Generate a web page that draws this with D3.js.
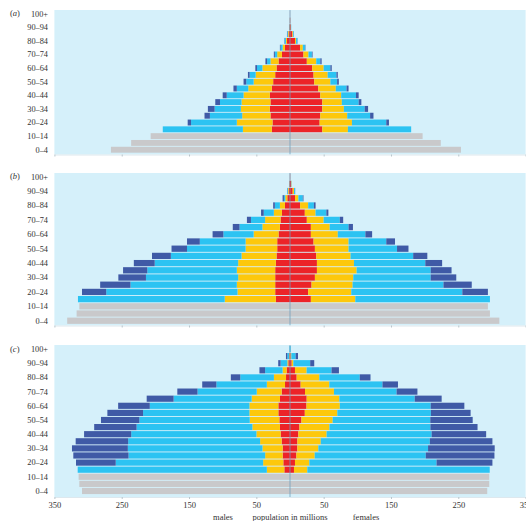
<!DOCTYPE html>
<html lang="en">
<head>
<meta charset="utf-8">
<title>Population pyramids by education</title>
<script src="https://cdnjs.cloudflare.com/ajax/libs/d3/7.8.5/d3.min.js"></script>
<style>
  body { margin: 0; background: #fff; }
  text { font-family: "Liberation Serif", "DejaVu Serif", serif; fill: #333; }
</style>
</head>
<body>
<script>
// age groups, bottom to top
var ages = ["0–4","5–9","10–14","15–19","20–24","25–29","30–34","35–39","40–44","45–49",
            "50–54","55–59","60–64","65–69","70–74","75–79","80–84","85–89","90–94","95–99","100+"];
var xTicks = [-350, -250, -150, -50, 50, 150, 250, 350];

// under-15 (grey) for 0–4, 5–9, 10–14
// education shares from 15–19 upwards: none (red), primary (yellow), secondary (light blue), tertiary (dark blue)

// (a)
var aMaleChild   = [266, 236, 207];
var aFemaleChild = [254, 224, 197];
var aMaleNone      = [27, 26, 29, 30, 29, 30, 27, 25, 22, 20, 17, 12, 7.5, 4.5, 2, 0.8, 0.3, 0.1];
var aMalePrimary   = [43, 53, 42, 43, 43, 39, 35, 29, 29, 21, 12, 7, 3.5, 1.5, 1, 0.3, 0.1, 0];
var aMaleSecondary = [119, 68, 48, 39, 32, 25, 17, 11, 9, 8, 5, 3.5, 3, 2, 1, 0.3, 0.1, 0];
var aMaleTertiary  = [0, 5, 8, 10, 7, 6, 5, 4, 2.5, 2.5, 2.5, 1.5, 1, 0.5, 0.5, 0.1, 0, 0];
var aFemaleNone      = [48, 44, 45, 48, 48, 45, 42, 36, 35, 33, 25, 20, 15, 7.5, 3.5, 1.2, 0.4, 0.1];
var aFemalePrimary   = [38, 48, 40, 32, 29, 31, 26, 24, 21, 17, 14, 7.5, 4, 1.5, 1, 0.3, 0.1, 0];
var aFemaleSecondary = [94, 51, 34, 31, 25, 22, 16, 10, 13, 10, 6, 5, 3.5, 2, 1, 0.3, 0.1, 0];
var aFemaleTertiary  = [0, 4, 5, 5, 4, 4, 3, 2.5, 2, 2, 2, 1, 0.5, 0.3, 0.2, 0, 0, 0];

// (b)
var bMaleChild   = [331, 317, 313];
var bFemaleChild = [311, 297, 294];
var bMaleNone      = [21, 22, 22, 22, 22, 21, 20, 19, 19, 17, 15, 14, 12, 7.5, 4, 2, 0.8, 0.2];
var bMalePrimary   = [76, 56, 57, 55, 57, 56, 52, 47, 47, 37, 26, 23, 12, 7.5, 3, 1, 0.3, 0.05];
var bMaleSecondary = [218, 195, 158, 137, 133, 124, 105, 87, 68, 45, 34, 21, 15, 7.5, 2, 1, 0.2, 0.05];
var bMaleTertiary  = [0, 36, 45, 41, 36, 31, 28, 23, 19, 16, 10, 6, 4, 2.5, 2, 0.3, 0.1, 0];
var bFemaleNone      = [31, 27, 32, 37, 40, 40, 39, 37, 35, 31, 31, 25, 22, 15, 7.5, 4, 1.5, 0.3];
var bFemalePrimary   = [66, 64, 61, 57, 59, 55, 51, 50, 52, 40, 28, 25, 16, 12, 5, 2, 0.5, 0.05];
var bFemaleSecondary = [200, 165, 135, 115, 110, 106, 93, 72, 56, 41, 28, 24, 16, 8.5, 6.5, 1.5, 0.3, 0.05];
var bFemaleTertiary  = [0, 38, 42, 38, 31, 25, 21, 17, 13, 10, 6.5, 5, 3, 2.5, 1, 0.2, 0.1, 0];

// (c)
var cMaleChild   = [309, 313, 314];
var cFemaleChild = [293, 296, 296];
var cMaleNone      = [8.4, 9.9, 10.9, 10.9, 12.4, 13.9, 14.9, 15.8, 17.3, 17.3, 14.9, 12.4, 7.4, 5.9, 5, 2.5, 1, 0];
var cMalePrimary   = [26, 30, 26, 30, 32, 36, 41, 44, 43, 43, 42, 37, 27, 18, 6, 1.5, 0.5, 0];
var cMaleSecondary = [281, 219, 203, 200, 196, 186, 172, 164, 158, 148, 116, 88, 75, 50, 26, 10, 2.5, 0.8];
var cMaleTertiary  = [0, 59, 82, 83, 78, 70, 63, 57, 53, 47, 40, 30, 21, 14, 8.4, 3.5, 2, 0];
var cFemaleNone      = [5.9, 7.4, 9.5, 10.9, 11, 12.4, 14, 17, 22, 24.5, 24.8, 22.3, 15.8, 9.9, 7.4, 2.5, 1, 0];
var cFemalePrimary   = [19.8, 21.3, 27.2, 31.2, 34.7, 42, 44.6, 46.4, 48.3, 49.5, 48.5, 43, 42.6, 33.7, 17.3, 2.5, 1, 0];
var cFemaleSecondary = [271, 189, 165, 163, 162, 156, 150, 145, 139, 135, 112, 93, 79, 60, 37, 25, 6.4, 1];
var cFemaleTertiary  = [0, 83, 102, 99, 93, 81, 70, 63, 59, 50, 40, 31, 23, 16, 11, 6, 3.5, 0];

var keys = ["child", "none", "primary", "secondary", "tertiary"];
var colors = {child: "#c9c9cb", none: "#ec2328", primary: "#fdc80c", secondary: "#2cc3f2", tertiary: "#3f5aa6"};

// build one table per panel and sex (21 rows each)
function table(child, none, primary, secondary, tertiary) {
  return ages.map(function(age, i) {
    var j = i - 3;
    return {
      age: age,
      child: i < 3 ? child[i] : 0,
      none: j >= 0 ? none[j] : 0,
      primary: j >= 0 ? primary[j] : 0,
      secondary: j >= 0 ? secondary[j] : 0,
      tertiary: j >= 0 ? tertiary[j] : 0
    };
  });
}

var panels = [
  {name: "a", y0: 10.3, y1: 153.1, bg0: 10, bg1: 154.5,
   male: table(aMaleChild, aMaleNone, aMalePrimary, aMaleSecondary, aMaleTertiary),
   female: table(aFemaleChild, aFemaleNone, aFemalePrimary, aFemaleSecondary, aFemaleTertiary)},
  {name: "b", y0: 173.1, y1: 324.3, bg0: 173, bg1: 325.5,
   male: table(bMaleChild, bMaleNone, bMalePrimary, bMaleSecondary, bMaleTertiary),
   female: table(bFemaleChild, bFemaleNone, bFemalePrimary, bFemaleSecondary, bFemaleTertiary)},
  {name: "c", y0: 345.5, y1: 494.5, bg0: 345, bg1: 497,
   male: table(cMaleChild, cMaleNone, cMalePrimary, cMaleSecondary, cMaleTertiary),
   female: table(cFemaleChild, cFemaleNone, cFemalePrimary, cFemaleSecondary, cFemaleTertiary)}
];

var w = 526, h = 521;
var svg = d3.select("body").append("svg").attr("width", w).attr("height", h);

var x = d3.scaleLinear().domain([-350, 350]).range([54.4, 525.6]);
var stack = d3.stack().keys(keys);

panels.forEach(function(p, pi) {
  var y = d3.scaleBand().domain(ages).range([p.y1, p.y0]).paddingInner(0.13).paddingOuter(0.06);
  var g = svg.append("g");

  // background
  g.append("rect")
    .attr("x", x(-350)).attr("y", p.bg0)
    .attr("width", x(350) - x(-350)).attr("height", p.bg1 - p.bg0)
    .attr("fill", "#d5f0fa");

  // males to the left, females to the right
  [["male", -1], ["female", 1]].forEach(function(side) {
    var series = stack(p[side[0]]);
    var sgn = side[1];
    g.selectAll(null)
      .data(series)
      .enter().append("g")
      .attr("fill", function(s) { return colors[s.key]; })
      .selectAll("rect")
      .data(function(s) { return s; })
      .enter().append("rect")
      .attr("y", function(d) { return y(d.data.age); })
      .attr("height", y.bandwidth())
      .attr("x", function(d) { return Math.min(x(sgn * d[0]), x(sgn * d[1])); })
      .attr("width", function(d) { return Math.abs(x(sgn * d[1]) - x(sgn * d[0])); });
  });

  // centre line
  g.append("line")
    .attr("x1", x(0)).attr("x2", x(0))
    .attr("y1", p.bg0).attr("y2", p.bg1)
    .attr("stroke", "#6f9fbd").attr("stroke-width", 0.9).attr("opacity", 0.85);

  // bottom axis
  var axis = d3.axisBottom(x).tickValues(xTicks).tickSize(2).tickSizeOuter(0)
    .tickFormat(function(d) { return Math.abs(d); });
  var ax = g.append("g").attr("transform", "translate(0," + p.bg1 + ")").call(axis);
  ax.select(".domain").attr("stroke", "#dde8ee");
  ax.selectAll(".tick line").attr("stroke", "#b9c6cc");
  ax.selectAll(".tick text")
    .attr("font-family", "Liberation Serif, serif").attr("font-size", 8.5)
    .attr("fill", "#444").attr("y", 5)
    .style("display", pi === 2 ? null : "none");

  // age labels, every other group
  g.selectAll(".age")
    .data(ages.filter(function(a, i) { return i % 2 === 0; }))
    .enter().append("text")
    .attr("x", 48).attr("y", function(a) { return y(a) + y.bandwidth() / 2; })
    .attr("dy", "0.35em").attr("text-anchor", "end")
    .attr("font-size", 8.3).attr("fill", "#444")
    .text(function(a) { return a; });

  // panel letter
  var lt = g.append("text").attr("x", 10).attr("y", p.y0 + 6).attr("font-size", 8.5).attr("fill", "#444");
  lt.append("tspan").text("(");
  lt.append("tspan").attr("font-style", "italic").text(p.name);
  lt.append("tspan").text(")");
});

// axis caption
var cap = svg.append("g").attr("font-size", 8.5);
cap.append("text").attr("x", 223).attr("y", 520).attr("text-anchor", "middle").attr("fill", "#444").text("males");
cap.append("text").attr("x", 290).attr("y", 520).attr("text-anchor", "middle").attr("fill", "#444").text("population in millions");
cap.append("text").attr("x", 366).attr("y", 520).attr("text-anchor", "middle").attr("fill", "#444").text("females");
</script>
</body>
</html>
